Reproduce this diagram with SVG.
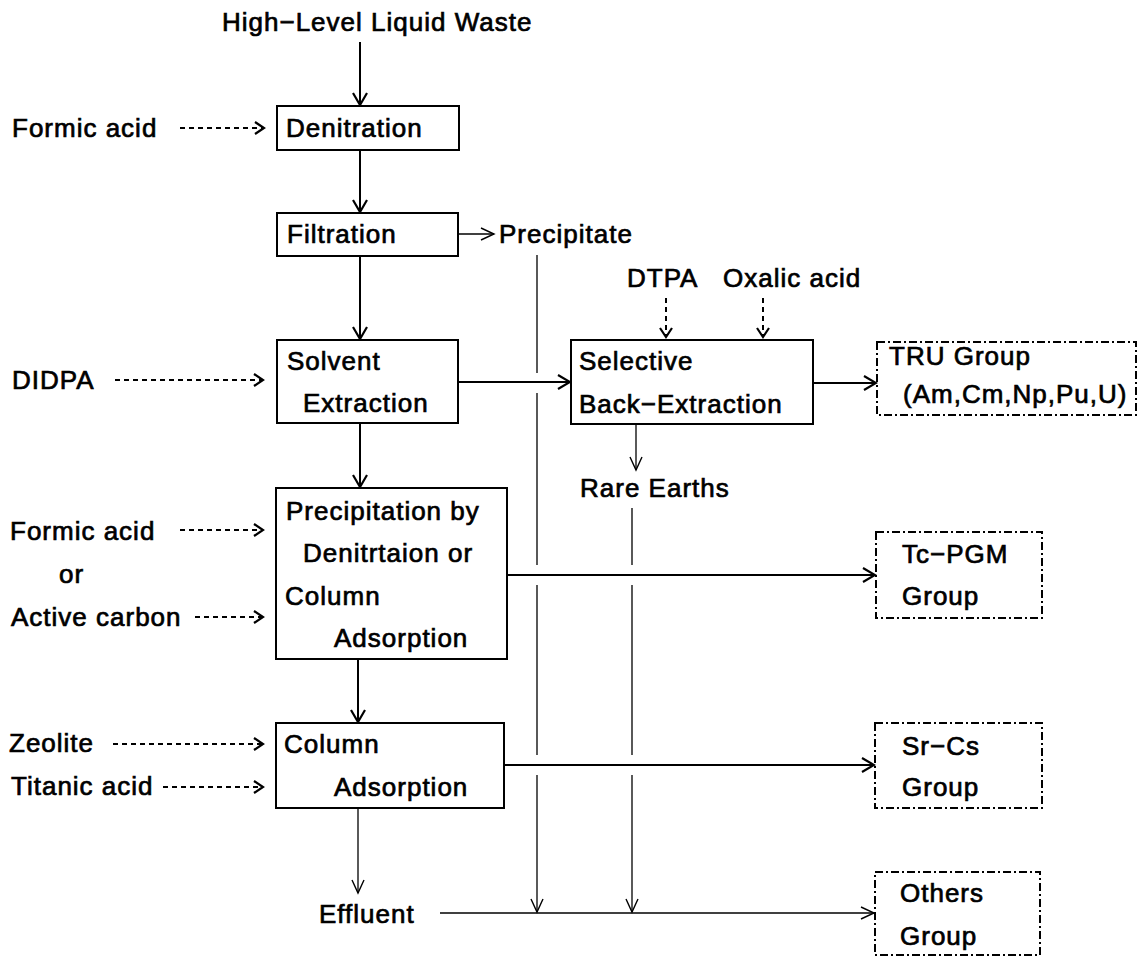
<svg xmlns="http://www.w3.org/2000/svg" width="1138" height="956" viewBox="0 0 1138 956">
<defs>
<style>
text{font-family:"Liberation Sans",Arial,sans-serif;font-size:26px;letter-spacing:1px;fill:#000;stroke:#000;stroke-width:0.7px}
.box{fill:none;stroke:#000;stroke-width:2}
.grp{fill:none;stroke:#000;stroke-width:2;stroke-dasharray:8 3 2 3}
.thick{fill:none;stroke:#000;stroke-width:2}
.thin{fill:none;stroke:#000;stroke-width:1.3}
.dash{fill:none;stroke:#000;stroke-width:2;stroke-dasharray:5 4}
</style>
<marker id="ah" viewBox="-14 -9 16 18" refX="0" refY="0" markerWidth="16" markerHeight="18" markerUnits="userSpaceOnUse" orient="auto">
<path d="M-12,-7 L0,0 L-12,7" fill="none" stroke="#000" stroke-width="2.2"/>
</marker>
<marker id="ahThin" viewBox="-15 -8 17 16" refX="0" refY="0" markerWidth="17" markerHeight="16" markerUnits="userSpaceOnUse" orient="auto">
<path d="M-13,-6 L0,0 L-13,6" fill="none" stroke="#000" stroke-width="1.4"/>
</marker>
<marker id="ahDash" viewBox="-11 -8 13 16" refX="0" refY="0" markerWidth="13" markerHeight="16" markerUnits="userSpaceOnUse" orient="auto">
<path d="M-9,-6 L0,0 L-9,6" fill="none" stroke="#000" stroke-width="2.2"/>
</marker>
</defs>
<rect width="1138" height="956" fill="#fff"/>

<g id="connectors">
<line class="thick" x1="360" y1="42" x2="360" y2="105" marker-end="url(#ah)"/>
<line class="thick" x1="360" y1="150" x2="360" y2="212" marker-end="url(#ah)"/>
<line class="thin" x1="458" y1="234" x2="494" y2="234" marker-end="url(#ahThin)"/>
<line class="thick" x1="360" y1="256" x2="360" y2="339" marker-end="url(#ah)"/>
<line class="thick" x1="458" y1="382" x2="570" y2="382" marker-end="url(#ah)"/>
<line class="thick" x1="813" y1="383" x2="876" y2="383" marker-end="url(#ah)"/>
<line class="thin" x1="636" y1="424" x2="636" y2="470" marker-end="url(#ahThin)"/>
<line class="thick" x1="360" y1="423" x2="360" y2="487" marker-end="url(#ah)"/>
<line class="thick" x1="507" y1="575" x2="875" y2="575" marker-end="url(#ah)"/>
<line class="thick" x1="358" y1="659" x2="358" y2="722" marker-end="url(#ah)"/>
<line class="thick" x1="504" y1="765" x2="874" y2="765" marker-end="url(#ah)"/>
<line class="thin" x1="358" y1="808" x2="358" y2="893" marker-end="url(#ahThin)"/>
<line class="thin" x1="440" y1="913" x2="874" y2="913" marker-end="url(#ahThin)"/>
<path class="thin" d="M537,255 V373 M537,393 V565 M537,585 V755"/>
<line class="thin" x1="537" y1="775" x2="537" y2="912" marker-end="url(#ahThin)"/>
<path class="thin" d="M632,508 V565 M632,585 V755"/>
<line class="thin" x1="632" y1="775" x2="632" y2="912" marker-end="url(#ahThin)"/>
<line class="dash" x1="180" y1="128" x2="264" y2="128" marker-end="url(#ahDash)"/>
<line class="dash" x1="115" y1="380" x2="263" y2="380" marker-end="url(#ahDash)"/>
<line class="dash" x1="666" y1="298" x2="666" y2="337" marker-end="url(#ahDash)"/>
<line class="dash" x1="763" y1="298" x2="763" y2="337" marker-end="url(#ahDash)"/>
<line class="dash" x1="180" y1="530" x2="263" y2="530" marker-end="url(#ahDash)"/>
<line class="dash" x1="195" y1="617" x2="263" y2="617" marker-end="url(#ahDash)"/>
<line class="dash" x1="113" y1="744" x2="263" y2="744" marker-end="url(#ahDash)"/>
<line class="dash" x1="163" y1="787" x2="263" y2="787" marker-end="url(#ahDash)"/>
</g>

<g id="labels">
<text x="222" y="31">High−Level Liquid Waste</text>
<text x="12" y="137">Formic acid</text>
<text x="499" y="243">Precipitate</text>
<text x="627" y="287">DTPA</text>
<text x="723" y="287">Oxalic acid</text>
<text x="12" y="389">DIDPA</text>
<text x="580" y="497">Rare Earths</text>
<text x="10" y="540">Formic acid</text>
<text x="59" y="583">or</text>
<text x="11" y="626">Active carbon</text>
<text x="9" y="752">Zeolite</text>
<text x="11" y="795">Titanic acid</text>
<text x="319" y="923">Effluent</text>
</g>

<g id="denitration">
<rect class="box" x="277" y="106" width="182" height="44"/>
<text x="286" y="137">Denitration</text>
</g>
<g id="filtration">
<rect class="box" x="277" y="213" width="181" height="43"/>
<text x="287" y="243">Filtration</text>
</g>
<g id="solvent-extraction">
<rect class="box" x="277" y="340" width="181" height="83"/>
<text x="287" y="370">Solvent</text>
<text x="303" y="412">Extraction</text>
</g>
<g id="selective-back-extraction">
<rect class="box" x="571" y="340" width="242" height="84"/>
<text x="579" y="370">Selective</text>
<text x="579" y="413">Back−Extraction</text>
</g>
<g id="tru-group">
<rect class="grp" x="877" y="342" width="259" height="73"/>
<text x="889" y="365">TRU Group</text>
<text x="903" y="403">(Am,Cm,Np,Pu,U)</text>
</g>
<g id="precipitation">
<rect class="box" x="276" y="488" width="231" height="171"/>
<text x="286" y="520">Precipitation by</text>
<text x="303" y="562">Denitrtaion or</text>
<text x="285" y="605">Column</text>
<text x="334" y="647">Adsorption</text>
</g>
<g id="tc-pgm-group">
<rect class="grp" x="876" y="532" width="166" height="86"/>
<text x="902" y="563">Tc−PGM</text>
<text x="902" y="605">Group</text>
</g>
<g id="column-adsorption">
<rect class="box" x="276" y="723" width="228" height="85"/>
<text x="284" y="753">Column</text>
<text x="334" y="796">Adsorption</text>
</g>
<g id="sr-cs-group">
<rect class="grp" x="875" y="723" width="167" height="85"/>
<text x="902" y="755">Sr−Cs</text>
<text x="902" y="796">Group</text>
</g>
<g id="others-group">
<rect class="grp" x="875" y="872" width="165" height="83"/>
<text x="900" y="902">Others</text>
<text x="900" y="945">Group</text>
</g>
</svg>
